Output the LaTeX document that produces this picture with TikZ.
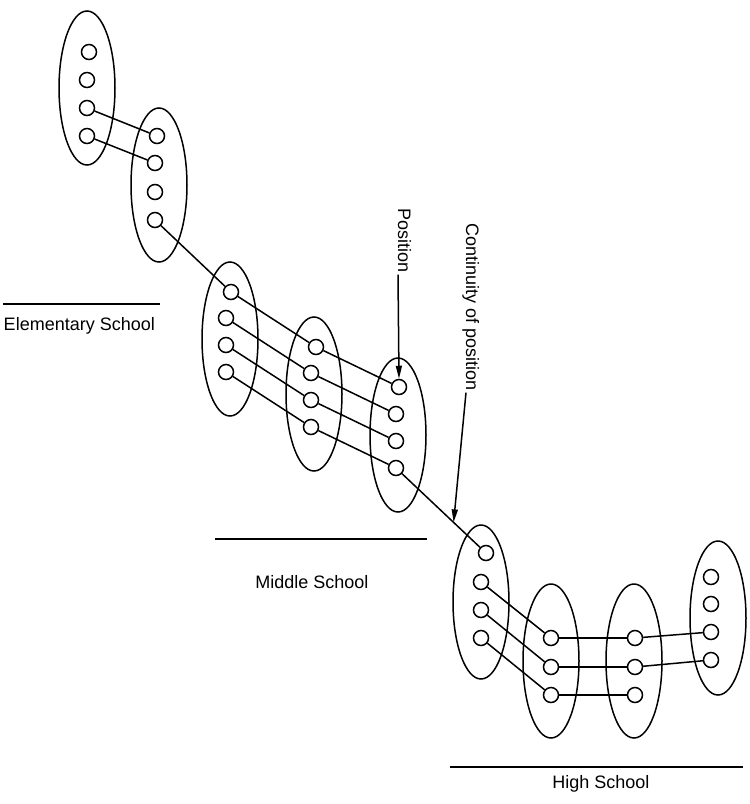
\documentclass[tikz,border=0pt]{standalone}
\usepackage{fontspec}
\setmainfont{Liberation Sans}
\usetikzlibrary{arrows.meta, calc, shapes.geometric}

\begin{document}
\begin{tikzpicture}[x=1pt,y=-1pt,line width=1.5pt,
    grade/.style={draw,ellipse,inner sep=0pt,minimum width=56pt,minimum height=154pt},
    pupil/.style={draw,circle,fill=white,inner sep=0pt,minimum size=15pt},
    school/.style={font=\fontsize{18}{21}\selectfont,inner sep=0pt},
    note/.style={font=\fontsize{18}{21}\selectfont,rotate=-90,anchor=base west,inner sep=1pt},
    pointer/.style={-{Triangle[length=13pt,width=6pt]}}]
  \useasboundingbox (0,0) rectangle (750,804);

  % the grades, one ellipse each
  \foreach \g/\x/\y in {A/87/88, B/159/185, C/230/339, D/314/394, E/398/435,
                        F/481/602, G/551/661, H/634/661, I/718/618}
    \node [grade] (\g) at (\x,\y) {};

  % pupils
  \foreach \p/\x/\y in {a1/89/52, a2/87/80, a3/87/108, a4/87/136,
                        b1/157/136, b2/155/163, b3/155/192, b4/155/220,
                        c1/231/292, c2/226/318, c3/226/345, c4/226/372,
                        d1/316/347, d2/311/373, d3/311/400, d4/311/427,
                        e1/399/387, e2/396/414, e3/396/441, e4/396/468,
                        f1/486/553, f2/481/582, f3/481/610, f4/481/638,
                        g1/551/638, g2/551/667, g3/551/695,
                        h1/635/638, h2/635/667, h3/635/695,
                        i1/711/577, i2/711/604, i3/711/632, i4/711/660}
    \node [pupil] (\p) at (\x,\y) {};

  \foreach \s/\t in {a3/b1, a4/b2, b4/c1,
                     c1/d1, c2/d2, c3/d3, c4/d4,
                     d1/e1, d2/e2, d3/e3, d4/e4, e4/f1,
                     f2/g1, f3/g2, f4/g3,
                     g1/h1, g2/h2, g3/h3, h1/i3, h2/i4}
    \draw (\s) -- (\t);

  % labels on the side
  \node [note] (pos) at (398,207) {Position};
  \draw [pointer] (pos.base east) -- (e1.north);

  \coordinate (link) at ($ (e4)!0.64!(f1) $);
  \node [note] (cont) at (466,222) {Continuity of position};
  \draw [pointer] (cont.base east) -- (link);

  % schools
  \draw (3,304) -- (160,304);
  \node [school,anchor=west] (elem) at (3,326) {Elementary School};
  \draw (215,539) -- (427,539);
  \node [school] (mid) at (312,582) {Middle School};
  \draw (450,767) -- (743,767);
  \node [school] (high) at (601,784) {High School};
\end{tikzpicture}
\end{document}
